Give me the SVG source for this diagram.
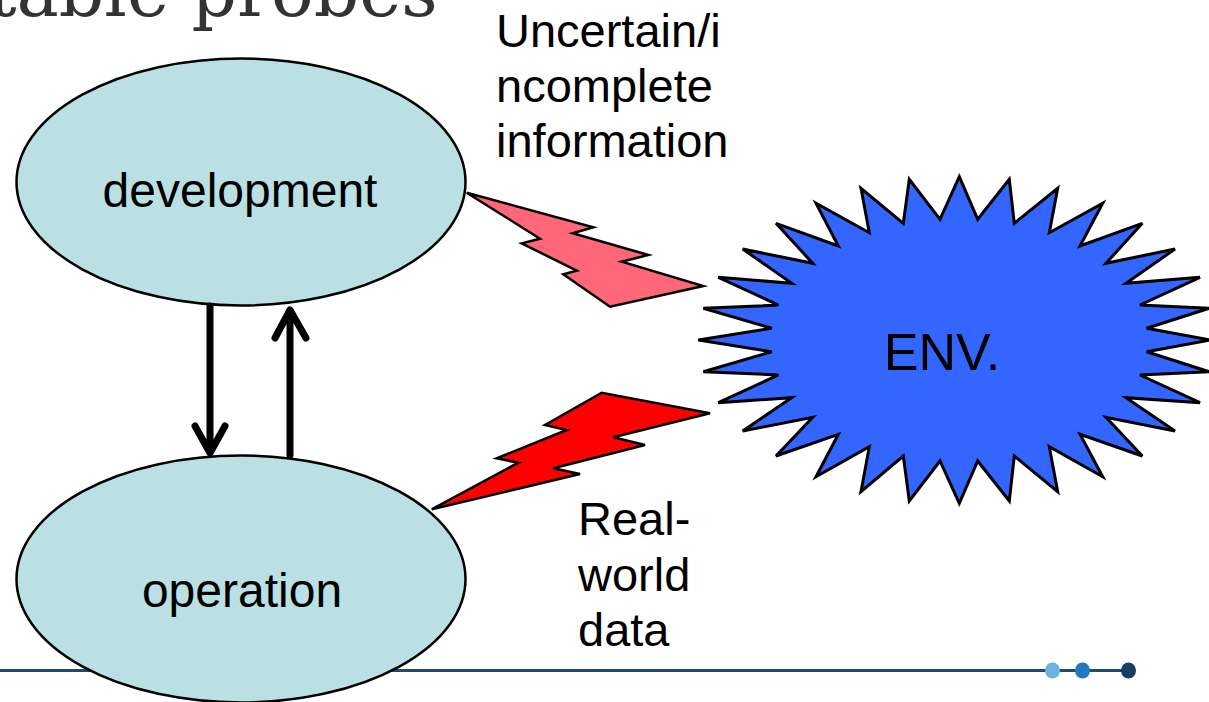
<svg xmlns="http://www.w3.org/2000/svg" width="1209" height="702" viewBox="0 0 1209 702">
  <style>
    .lbl { font-family: "Liberation Sans", Arial, sans-serif; font-size: 47px; fill: #000; }
    .big { font-size: 48px; }
    .node { fill: #BAE0E3; stroke: #000; stroke-width: 2.5; }
    .bolt { stroke: #000; stroke-width: 2.5; stroke-linejoin: miter; }
    .flow { fill: none; stroke: #000; stroke-width: 7; stroke-linecap: round; stroke-linejoin: round; }
  </style>

  <rect width="1209" height="702" fill="#fff"/>

  <!-- slide title, running off the top edge -->
  <text x="-12" y="16" font-family="'DejaVu Serif', 'Liberation Serif', serif" font-size="71" fill="#333">table probes</text>

  <!-- footer rule with dots -->
  <g id="footer">
    <line x1="0" y1="670.5" x2="1128" y2="670.5" stroke="#1F4A6E" stroke-width="3"/>
    <ellipse cx="1052.5" cy="670.5" rx="7.5" ry="8" fill="#6CB0E4"/>
    <ellipse cx="1082.5" cy="670.5" rx="7.5" ry="8" fill="#2277C0"/>
    <ellipse cx="1128.5" cy="670.5" rx="7.5" ry="8" fill="#163F63"/>
  </g>

  <g id="development">
    <ellipse class="node" cx="241" cy="182" rx="224.5" ry="123.5"/>
    <text class="lbl big" x="240" y="207" text-anchor="middle">development</text>
  </g>

  <g id="operation">
    <ellipse class="node" cx="241" cy="579" rx="224.5" ry="123.5"/>
    <text class="lbl big" x="242" y="607" text-anchor="middle">operation</text>
  </g>

  <g id="env">
    <polygon fill="#3366FF" stroke="#000" stroke-width="3" stroke-linejoin="miter"
      points="959.3,176.7 977.7,219.3 1009.3,179.3 1014.3,223.3 1057.7,188.3 1049.3,232.7 1102.7,203.3 1080,246 1142.3,223.3 1106,263.3 1175,249 1126,283.3 1200,277.3 1140,305 1209,308.3 1146.7,328.3 1210,340 1146.7,351.7 1209,371.7 1140,375 1200,402.7 1126,397.7 1175,431 1106,417.3 1142.3,456 1080,434.3 1102.7,476.7 1049.3,446.7 1057.7,491.7 1014.3,456 1009.3,501 977.7,461 959.3,503.3 940,461 909.3,501 903.3,456 861,491.7 869.3,446.7 816,476.7 838.3,434.3 776,456 812.7,417.3 742.7,431 791.7,397.7 718.3,402.7 778.3,375 703.3,371.7 771.7,351.7 698.3,340 771.7,328.3 703.3,308.3 778.3,305 718.3,277.3 791.7,283.3 742.7,249 812.7,263.3 776,223.3 838.3,246 816,203.3 869.3,232.7 861,188.3 903.3,223.3 909.3,179.3 940,219.3"/>
    <text x="942" y="370" text-anchor="middle" font-family="'Liberation Sans', Arial, sans-serif" font-size="52" fill="#000">ENV.</text>
  </g>

  <g id="connectors">
    <!-- development -> operation -->
    <path class="flow" d="M210,306 V452 M195,426 L210,453 L225,426"/>
    <!-- operation -> development -->
    <path class="flow" d="M290,455 V311 M275,338 L290,310 L306,338"/>
    <!-- lightning: environment to development -->
    <polygon class="bolt" fill="#FF6677"
      points="466.7,192.7 593.3,227.3 572.7,233.3 648.3,255 621.7,261.7 703.3,286 610,306.7 563.3,274.3 576.7,270.7 521.7,243.3 540,238.7"/>
    <!-- lightning: operation to environment -->
    <polygon class="bolt" fill="#FF0000"
      points="431.7,509.3 580,474 553.3,468.3 645,445 613.3,437.3 710,413.3 601.7,392.7 545,425 566.7,430 496.7,458.3 518.3,462.7"/>
  </g>

  <g id="label-uncertain">
    <text class="lbl" x="496" y="47">Uncertain/i</text>
    <text class="lbl" x="496" y="102">ncomplete</text>
    <text class="lbl" x="496" y="157">information</text>
  </g>

  <g id="label-realworld">
    <text class="lbl" x="578" y="535">Real-</text>
    <text class="lbl" x="578" y="591">world</text>
    <text class="lbl" x="578" y="646">data</text>
  </g>
</svg>
